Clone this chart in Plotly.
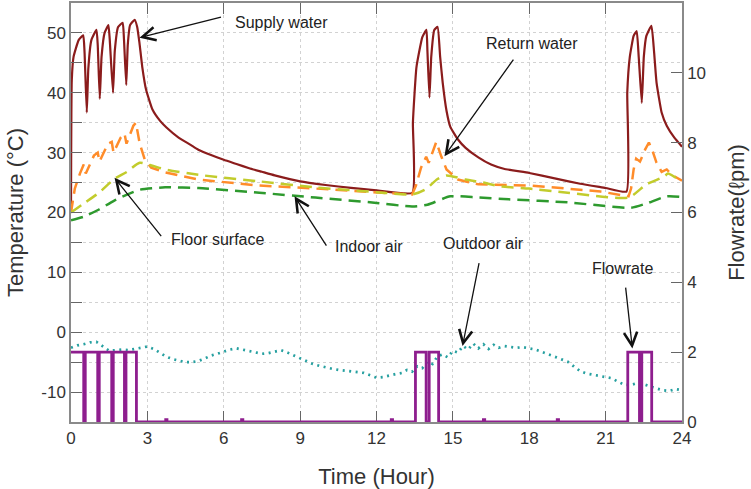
import plotly.graph_objects as go

# ---------------- data ----------------
hours_supply = [0, 0.03, 0.1, 0.3, 0.48, 0.53, 0.62, 0.68, 0.8, 1.0, 1.05, 1.13, 1.2, 1.32, 1.47,
                1.52, 1.65, 1.72, 1.85, 2.03, 2.08, 2.17, 2.23, 2.32, 2.5, 2.6, 2.69, 2.8, 2.95,
                3.2, 3.5, 3.75, 4.2, 4.7, 5.0, 5.5, 6.0, 6.5, 7.0, 7.5, 8.0, 9.0, 10.0, 11.0,
                12.0, 13.41, 13.43, 13.57, 13.8, 13.96, 14.0, 14.08, 14.15, 14.27, 14.4, 14.5,
                14.6, 14.75, 14.9, 15.2, 15.5, 16.0, 16.5, 17.0, 18.0, 19.0, 20.0, 21.0, 21.82,
                21.85, 21.95, 22.1, 22.22, 22.3, 22.42, 22.5, 22.6, 22.8, 22.9, 23.0, 23.2,
                23.4, 23.7, 24.0]
supply_water = [20.5, 42, 46, 48.8, 49.6, 47, 36.7, 44, 48.8, 50.5, 48, 39, 46, 50, 51.3,
                49, 40, 47, 51, 51.7, 49, 41.3, 48, 51.3, 52.2, 51, 48.3, 44.3, 40.5,
                37.2, 35.3, 34.2, 32.6, 31.3, 30.5, 29.6, 28.8, 28.1, 27.4, 26.8, 26.2, 25.2,
                24.6, 24.1, 23.7, 23.3, 35, 44.3, 49.3, 50.5, 47, 39.2, 46, 50.5, 51, 46,
                41.7, 37, 34.3, 32.2, 30.8, 29.2, 28.0, 27.3, 26.6, 25.7, 24.8, 24.1, 23.5,
                40, 46, 49.5, 50.3, 46, 38.3, 46, 49.5, 51.2, 47, 41.7, 36.7,
                34.5, 32.5, 31]

hours_return = [0, 0.15, 0.35, 0.5, 0.58, 0.9, 1.05, 1.12, 1.45, 1.6, 1.67, 1.95, 2.1, 2.18,
                2.45, 2.55, 2.7, 2.9, 3.15, 3.7, 5.0, 7.4, 9.6, 12.2, 13.4, 13.55, 13.75,
                13.95, 14.05, 14.35, 14.45, 14.55, 14.75, 15.2, 16.0, 17.2, 18.1, 20.8, 21.9,
                22.0, 22.1, 22.2, 22.35, 22.55, 22.7, 22.85, 23.0, 23.2, 23.4, 23.6, 24.0]
return_water = [20, 24, 26.5, 28, 26.5, 29.5, 30, 28.5, 31.5, 31.8, 30, 32.5, 33.2, 31.5,
                34.5, 35, 31.5, 28.8, 27.5, 26.7, 25.5, 24.5, 24.0, 23.3, 23.0, 24.5, 27.5,
                29.3, 28.3, 31.8, 30.5, 29.3, 27.2, 25.5, 24.7, 24.6, 24.5, 23.5, 22.7,
                24, 27.2, 29, 28.5, 30.5, 31.7, 30.2, 28.3, 26.8, 27.2, 26.3, 25.3]

hours_floor = [0, 0.5, 1.1, 1.7, 2.2, 2.7, 3.2, 3.7, 5.0, 7.4, 9.6, 12.0, 13.4, 13.9, 14.4,
               14.75, 15.5, 16.2, 16.8, 18.0, 19.5, 21.9, 22.6, 23.3, 23.45, 23.8, 24.0]
floor_surface = [20, 21.5, 23.3, 25.6, 26.8, 28.3, 27.8, 27.2, 26.3, 25.2, 24.2, 23.4, 23.0,
                 23.8, 25.6, 26.2, 25.5, 25.0, 24.4, 24.0, 23.3, 22.5, 24.7, 26.0, 26.5, 25.7, 25.3]

hours_indoor = [0, 0.5, 1.1, 1.7, 2.7, 3.7, 5.0, 7.4, 9.6, 12.0, 13.4, 14.0, 14.9, 16.0,
                17.2, 19.5, 22.0, 22.6, 23.4, 24.0]
indoor_air = [18.7, 19.3, 20.5, 22.0, 23.8, 24.2, 24.1, 23.3, 22.5, 21.6, 21.0, 21.3, 22.7,
              22.5, 22.2, 21.7, 20.8, 21.5, 22.7, 22.6]

hours_outdoor = [0.0, 0.25, 0.5, 0.75, 1.0, 1.25, 1.5, 1.75, 2.0, 2.25, 2.5, 2.75, 3.0, 3.25,
                 3.5, 3.75, 4.0, 4.25, 4.5, 4.75, 5.0, 5.25, 5.5, 5.75, 6.0, 6.25, 6.5, 6.75,
                 7.0, 7.25, 7.5, 7.75, 8.0, 8.25, 8.5, 8.75, 9.0, 9.25, 9.5, 9.75, 10.0, 10.25,
                 10.5, 10.75, 11.0, 11.25, 11.5, 11.75, 12.0, 12.25, 12.5, 12.75, 13.0, 13.2,
                 13.4, 13.6, 13.8, 14.0, 14.2, 14.4, 14.6, 14.8, 15.0, 15.2, 15.4, 15.6, 15.8,
                 16.0, 16.2, 16.4, 16.6, 16.8, 17.0, 17.25, 17.5, 17.75, 18.0, 18.25, 18.5,
                 18.75, 19.0, 19.25, 19.5, 19.75, 20.0, 20.25, 20.5, 20.75, 21.0, 21.25, 21.5,
                 21.75, 22.0, 22.25, 22.5, 22.75, 23.0, 23.25, 23.5, 23.75, 24.0]
outdoor_air = [-2.6, -2.2, -2.0, -1.7, -1.6, -2.3, -3.1, -3.0, -2.9, -3.0, -2.8, -2.5, -2.4, -2.8,
               -3.4, -4.1, -4.5, -4.8, -5.0, -5.0, -4.8, -4.4, -3.9, -3.6, -3.2, -2.9, -2.7, -2.9,
               -3.2, -3.4, -3.6, -3.5, -3.3, -3.0, -3.4, -3.9, -4.4, -4.9, -5.3, -5.6, -5.9, -6.1,
               -6.3, -6.4, -6.5, -6.6, -6.8, -7.2, -7.6, -7.5, -7.2, -7.0, -6.8, -6.3,
               -6.6, -5.7, -6.0, -4.9, -5.3, -4.0, -3.7, -4.2, -3.1, -3.4, -2.3, -2.9, -1.9,
               -2.7, -2.0, -2.8, -2.1, -2.6, -2.3, -2.4, -2.6, -2.5, -2.7, -2.9, -3.3,
               -3.7, -4.1, -4.5, -4.9, -5.7, -6.5, -6.9, -7.1, -7.2, -7.4, -7.7, -8.3,
               -8.8, -8.8, -8.5, -8.7, -9.1, -9.4, -9.7, -9.8, -9.5, -9.7]

hours_flow = [0, 0.5, 0.56, 1.05, 1.11, 1.6, 1.66, 2.1, 2.16, 2.57, 3.72, 3.77, 6.7, 6.75,
              12.58, 12.63, 13.53, 13.95, 14.07, 14.44, 16.2, 16.25, 19.1, 19.15,
              21.87, 22.33, 22.42, 22.81, 24]
flowrate = [2, 0, 2, 0, 2, 0, 2, 0, 2, 0, 0.07, 0, 0.07, 0,
            0.07, 0, 2, 0, 2, 0, 0.07, 0, 0.07, 0,
            2, 0, 2, 0, 0]

# ---------------- styling ----------------
FONT = "Liberation Sans, Arial, sans-serif"
TXT = "#333333"
AX = "#8a8a8a"
DASH = "12px,7px"

fig = go.Figure()
fig.add_trace(go.Scatter(x=hours_supply, y=supply_water, mode="lines", name="Supply water",
                         line=dict(color="#8B1C1C", width=2.2, shape="spline", smoothing=0.4)))
fig.add_trace(go.Scatter(x=hours_return, y=return_water, mode="lines", name="Return water",
                         line=dict(color="#FF8C2A", width=2.5, dash=DASH)))
fig.add_trace(go.Scatter(x=hours_floor, y=floor_surface, mode="lines", name="Floor surface",
                         line=dict(color="#C2CC2C", width=2.5, dash=DASH, shape="spline", smoothing=0.6)))
fig.add_trace(go.Scatter(x=hours_indoor, y=indoor_air, mode="lines", name="Indoor air",
                         line=dict(color="#2E9A2E", width=2.5, dash=DASH, shape="spline", smoothing=0.6)))
fig.add_trace(go.Scatter(x=hours_outdoor, y=outdoor_air, mode="lines", name="Outdoor air",
                         line=dict(color="#26A0A0", width=2.7, dash="2px,4.5px")))
fig.add_trace(go.Scatter(x=hours_flow, y=flowrate, mode="lines", name="Flowrate", yaxis="y2",
                         line=dict(color="#8E1E8E", width=2.8, shape="hv")))

# arrows (tail -> tip, in data coordinates)
arrows = [
    ((5.95, 52.7), (2.69, 49.2)),
    ((17.42, 45.8), (14.67, 29.4)),
    ((3.59, 15.8), (1.71, 25.8)),
    ((10.07, 14.2), (8.78, 22.7)),
    ((16.04, 11.8), (15.38, -2.3)),
    ((21.78, 7.7), (22.05, -2.7)),
]
for (tx, ty), (hx, hy) in arrows:
    fig.add_annotation(x=hx, y=hy, ax=tx, ay=ty, xref="x", yref="y", axref="x", ayref="y",
                       text="", showarrow=True, arrowhead=5, arrowsize=2.0, arrowwidth=1.3,
                       arrowcolor="#111111", standoff=0, startstandoff=0)

labels = [("Supply water", 8.27, 51.8), ("Return water", 18.09, 48.3),
          ("Floor surface", 5.75, 15.5), ("Indoor air", 11.72, 14.4),
          ("Outdoor air", 16.2, 14.8), ("Flowrate", 21.66, 10.6)]
for txt, lx, ly in labels:
    fig.add_annotation(x=lx, y=ly, xref="x", yref="y", text=txt, showarrow=False,
                       font=dict(family=FONT, size=16, color="#222222"))

fig.update_layout(
    width=751, height=489,
    margin=dict(l=71, r=69, t=3, b=67, autoexpand=False),
    paper_bgcolor="white", plot_bgcolor="white",
    showlegend=False,
    font=dict(family=FONT, color=TXT),
    xaxis=dict(range=[0, 24], dtick=3, tick0=0, ticks="inside", ticklen=11, tickwidth=1.3,
               tickcolor="#666", showline=True, linecolor=AX, linewidth=1.5, mirror="ticks",
               showgrid=True, gridcolor="#d2d2d2", griddash="dot", gridwidth=1, zeroline=False,
               tickfont=dict(size=17, color=TXT), layer="below traces", automargin=False,
               title=dict(text="Time (Hour)", font=dict(size=22, color=TXT), standoff=26)),
    yaxis=dict(range=[-15, 55], tickvals=[-10, 0, 10, 20, 30, 40, 50],
               ticktext=["-10", "0", "10", "20", "30", "40", "50"], ticks="inside",
               ticklen=11, tickwidth=1.3, tickcolor="#666", showline=True, linecolor=AX,
               linewidth=1.5, mirror=True, showgrid=True, gridcolor="#d2d2d2", griddash="dot",
               gridwidth=1, zeroline=False, tickfont=dict(size=17, color=TXT), automargin=False,
               minor=dict(tickvals=[-5, 5, 15, 25, 35, 45], ticks="inside", ticklen=11,
                          tickcolor="#666", showgrid=True, gridcolor="#d2d2d2", griddash="dot"),
               title=dict(text="Temperature (°C)", font=dict(size=22, color=TXT), standoff=12)),
    yaxis2=dict(range=[0, 12], dtick=2, overlaying="y", side="right", ticks="inside",
                ticklen=11, tickwidth=1.3, tickcolor="#666", showline=True, linecolor=AX,
                linewidth=1.5, showgrid=False, zeroline=False, tickfont=dict(size=17, color=TXT),
                automargin=False,
                title=dict(text="Flowrate(ℓpm)", font=dict(size=22, color=TXT), standoff=24)),
)

fig.write_html("out.html")
